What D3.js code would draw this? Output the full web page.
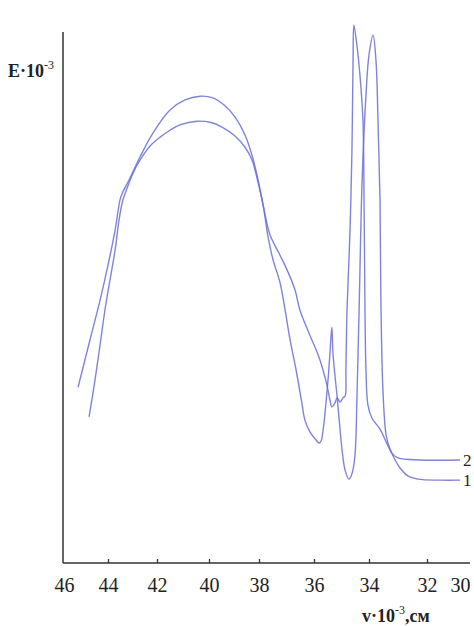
<!DOCTYPE html>
<html>
<head>
<meta charset="utf-8">
<script src="https://cdn.jsdelivr.net/npm/d3@7"></script>
<style>
  body { margin: 0; background: #fff; }
  svg { display: block; }
</style>
</head>
<body>
<script>
// wavenumber ticks (v·10^-3, cm^-1)
var tickValues = [46, 44, 42, 40, 38, 36, 34, 32, 30];

// curve 1 : wavenumber and extinction (arbitrary units, axis top = 100)
var nu1 = [44.86, 44.59, 44.36, 44.14, 43.92, 43.71, 43.55, 43.39, 43.22, 42.98, 42.69, 42.29, 41.88, 41.5, 41.12,
  40.46, 39.96, 39.48, 38.96, 38.56, 38.28, 38.08, 37.85, 37.67, 37.49, 37.24, 37.05, 36.87, 36.65, 36.44, 36.33,
  36.15, 35.93, 35.82, 35.75, 35.67, 35.49, 35.42, 35.35, 35.31, 35.16, 35.05, 34.98, 34.87, 34.73, 34.62, 34.51,
  34.44, 34.36, 34.25, 34.11, 34.0, 33.86, 33.76, 33.69, 33.62, 33.59, 33.52, 33.41, 33.28, 33.10, 32.93, 32.66,
  32.31, 31.21, 30.0];
var e1 = [27.5, 34.5, 41.1, 47.6, 53.3, 58.9, 64.6, 68.4, 70.6, 73.4, 75.9, 78.5, 80.2, 81.5, 82.5,
  83.2, 83.0, 82.1, 80.4, 78.3, 75.9, 72.5, 67.4, 61.4, 57.1, 52.9, 47.6, 42.0, 36.3, 30.1, 26.9,
  24.7, 23.2, 22.6, 22.9, 25.0, 34.5, 39.5, 44.4, 39.5, 31.3, 25.0, 21.3, 17.5, 15.8, 16.8, 20.3,
  30.7, 47.6, 72.1, 88.1, 95.7, 99.4, 94.7, 83.4, 68.4, 49.5, 32.6, 24.1, 21.5, 19.4, 17.9, 16.4,
  15.8, 15.6, 15.6];

// curve 2
var nu2 = [45.36, 44.82, 44.36, 44.0, 43.71, 43.51, 43.43, 43.10, 42.69, 42.16, 41.5, 40.92, 40.35, 39.84, 39.36,
  38.96, 38.56, 38.28, 38.08, 37.85, 37.6, 37.24, 36.98, 36.69, 36.51, 36.15, 35.85, 35.67, 35.53, 35.42,
  35.35, 35.24, 35.16, 35.05, 34.95, 34.87, 34.84, 34.80, 34.69, 34.62, 34.58, 34.55, 34.44, 34.33, 34.22,
  34.18, 34.15, 34.11, 34.04, 33.90, 33.62, 33.41, 33.21, 33.0, 32.24, 30.0];
var e2 = [33.1, 42.0, 49.5, 56.1, 62.7, 68.4, 69.5, 72.5, 76.5, 81.0, 85.3, 87.2, 87.9, 87.6, 86.1,
  84.0, 80.6, 76.8, 73.1, 67.4, 61.8, 58.0, 55.2, 51.4, 47.6, 42.9, 39.2, 36.3, 33.5, 30.7,
  29.4, 30.1, 31.1, 30.3, 31.1, 31.4, 36.3, 47.6, 62.7, 77.8, 94.7, 101.3, 97.5, 91.9, 83.4,
  68.4, 49.5, 36.3, 29.8, 27.3, 25.2, 22.8, 20.7, 19.8, 19.4, 19.4];

var curveLabels = ["1", "2"];

window.onload = function() {
    var w = 474, h = 626;

    var svg = d3.select("body")
        .append("svg")
        .attr("width", w)
        .attr("height", h)
        .style("background", "#fff");

    // hand-drawn axis in the source is not evenly spaced, so calibrate piecewise
    var x = d3.scaleLinear()
        .domain(tickValues)
        .range([64, 108, 157, 209, 259, 314, 369, 427, 460]);

    var y = d3.scaleLinear()
        .domain([0, 100])
        .range([563, 32]);

    var serif = "'Liberation Serif', 'DejaVu Serif', serif";
    var axisColor = "#333";

    // y axis (no ticks)
    svg.append("line")
        .attr("x1", 63).attr("x2", 63)
        .attr("y1", y(100)).attr("y2", y(0))
        .attr("stroke", axisColor)
        .attr("stroke-width", 1.5);

    // x axis
    var xAxis = svg.append("g")
        .attr("transform", "translate(0," + y(0) + ")")
        .call(d3.axisBottom(x)
            .tickValues(tickValues)
            .tickSizeInner(-4)
            .tickSizeOuter(0)
            .tickPadding(15)
            .tickFormat(d3.format("d")));

    xAxis.select(".domain")
        .attr("d", "M63,0H470")
        .attr("stroke", axisColor)
        .attr("stroke-width", 1.5);

    xAxis.selectAll(".tick line")
        .attr("stroke", axisColor)
        .attr("stroke-width", 1.3)
        .attr("display", function(d) {
            return (d === 46 || d === 30) ? "none" : null;
        });

    xAxis.selectAll(".tick text")
        .attr("fill", "#222")
        .style("font-family", serif)
        .style("font-size", "20px");

    // axis titles
    var yTitle = svg.append("text")
        .attr("x", 8)
        .attr("y", 77)
        .attr("fill", "#222")
        .style("font-family", serif)
        .style("font-size", "18px")
        .style("font-weight", "bold");
    yTitle.append("tspan").text("E·10");
    yTitle.append("tspan").attr("dy", -8).style("font-size", "12px").style("font-weight", "normal").text("-3");

    var xTitle = svg.append("text")
        .attr("x", 362)
        .attr("y", 622)
        .attr("fill", "#222")
        .style("font-family", serif)
        .style("font-size", "18px")
        .style("font-weight", "bold");
    xTitle.append("tspan").text("v·10");
    xTitle.append("tspan").attr("dy", -8).style("font-size", "12px").style("font-weight", "normal").text("-3");
    xTitle.append("tspan").attr("dy", 8).text(",см");

    // curves
    var series = [
        { label: curveLabels[0], pts: nu1.map(function(v, i) { return [v, e1[i]]; }) },
        { label: curveLabels[1], pts: nu2.map(function(v, i) { return [v, e2[i]]; }) }
    ];

    var line = d3.line()
        .x(function(d) { return x(d[0]); })
        .y(function(d) { return y(d[1]); })
        .curve(d3.curveCatmullRom.alpha(0.5));

    svg.selectAll(".curve")
        .data(series)
        .enter()
        .append("path")
        .attr("class", "curve")
        .attr("d", function(d) { return line(d.pts); })
        .attr("fill", "none")
        .attr("stroke", "#6a6fd2")
        .attr("stroke-opacity", 0.85)
        .attr("stroke-width", 1.4);

    // curve numbers at the right end
    svg.selectAll(".curve-label")
        .data(series)
        .enter()
        .append("text")
        .attr("class", "curve-label")
        .attr("x", function(d) { return x(d.pts[d.pts.length - 1][0]) + 3; })
        .attr("y", function(d) { return y(d.pts[d.pts.length - 1][1]) + 6; })
        .attr("fill", "#222")
        .style("font-family", serif)
        .style("font-size", "17px")
        .text(function(d) { return d.label; });
};
</script>
</body>
</html>
